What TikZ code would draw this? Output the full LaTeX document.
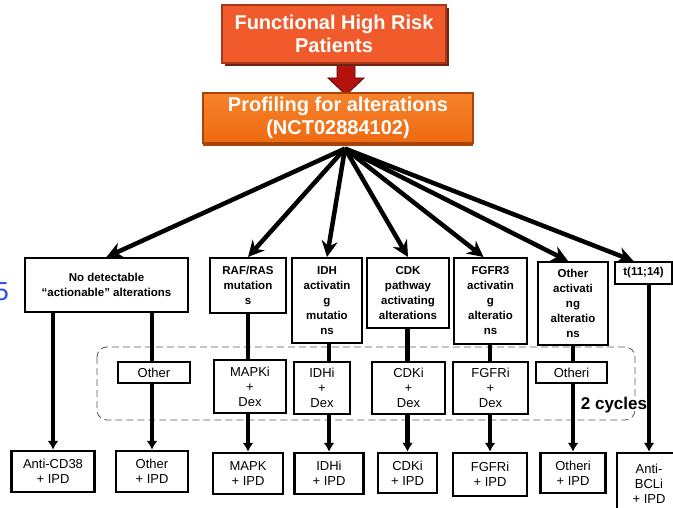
\documentclass[tikz,border=0pt]{standalone}
\usepackage{fontspec}
\setmainfont{Liberation Sans}
\usetikzlibrary{arrows.meta,shadows}

\definecolor{riskfill}{HTML}{F15A2B}
\definecolor{riskedge}{HTML}{A8361A}
\definecolor{riskshadow}{HTML}{6E2412}
\definecolor{profhi}{HTML}{F5822A}
\definecolor{proffill}{HTML}{EE6A12}
\definecolor{profdark}{HTML}{A84405}
\definecolor{arrowred}{HTML}{B3120F}
\definecolor{arrowdark}{HTML}{5A0505}
\definecolor{numblue}{HTML}{2848F0}

\begin{document}
\begin{tikzpicture}[x=1pt,y=-1pt,
    topbox/.style={draw=riskedge,line width=1.2pt,fill=riskfill,text=white,
        font=\fontsize{20}{23}\selectfont\bfseries,align=center,inner sep=0pt},
    profbox/.style={draw=profdark,line width=1.2pt,top color=profhi,bottom color=proffill,text=white,
        font=\fontsize{20}{23}\selectfont\bfseries,align=center,inner sep=0pt},
    altbox/.style={draw,line width=2pt,fill=white,font=\fontsize{11.5}{15}\selectfont\bfseries,
        align=center,inner sep=0pt},
    drugbox/.style={draw,line width=2.5pt,fill=white,font=\fontsize{13}{15}\selectfont,
        align=center,inner sep=0pt},
    fan/.style={line width=4.5pt,-{Stealth[length=16pt,width=16pt]}},
    vline/.style={line width=4.5pt},
    vdown/.style={vline,-{Latex[length=9pt,width=11pt]}}]
    \useasboundingbox (0,0) rectangle (673,508);

    % cycle frame
    \draw[gray!70!black,line width=0.8pt,dash pattern=on 7pt off 4pt,rounded corners=10pt]
        (97,347) rectangle (635,420);

    % top
    \fill[arrowred,draw=arrowdark,line width=0.8pt] (337,62) -- (355,62) -- (355,78) -- (364,78)
        -- (346,95) -- (328,78) -- (337,78) -- cycle;
    \node[topbox,minimum width=224pt,minimum height=58pt,
        drop shadow={shadow xshift=3pt,shadow yshift=-3pt,fill=riskshadow,opacity=1}]
        at (334,34) (risk) {Functional High Risk\\Patients};
    \node[profbox,minimum width=270pt,minimum height=50pt,
        drop shadow={shadow xshift=0pt,shadow yshift=-3pt,fill=profdark,opacity=1}]
        at (338,118) (prof) {Profiling for alterations\\(NCT02884102)};
    \coordinate (hub) at ([xshift=7pt,yshift=-5pt]prof.south);

    % alterations
    \node[altbox,minimum width=163pt,minimum height=54pt] at (106.5,285) (nodet) {No detectable\\“actionable” alterations};
    \node[altbox,minimum width=76pt,minimum height=55pt] at (248,285.5) (raf) {RAF/RAS\\mutation\\s};
    \node[altbox,minimum width=70pt,minimum height=85pt] at (327,300.5) (idh) {IDH\\activatin\\g\\mutatio\\ns};
    \node[altbox,minimum width=82pt,minimum height=70pt] at (408,293) (cdk) {CDK\\pathway\\activating\\alterations};
    \node[altbox,minimum width=73pt,minimum height=86pt] at (490.5,301) (fgfr) {FGFR3\\activatin\\g\\alteratio\\ns};
    \node[altbox,minimum width=70pt,minimum height=83pt] at (573,303.5) (othalt) {Other\\activati\\ng\\alteratio\\ns};
    \node[altbox,minimum width=57pt,minimum height=22pt] at (643.5,273) (t1114) {t(11;14)};

    % induction (2 cycles)
    \node[drugbox,minimum width=72pt,minimum height=21pt] at (154,372.5) (oth1) {Other};
    \node[drugbox,minimum width=72pt,minimum height=53pt] at (250,386.5) (mapki) {MAPKi\\+\\Dex};
    \node[drugbox,minimum width=56pt,minimum height=52pt] at (322,388) (idhi) {IDHi\\+\\Dex};
    \node[drugbox,minimum width=73pt,minimum height=52pt] at (408.5,388) (cdki) {CDKi\\+\\Dex};
    \node[drugbox,minimum width=75pt,minimum height=52pt] at (490.5,388) (fgfri) {FGFRi\\+\\Dex};
    \node[drugbox,minimum width=71pt,minimum height=21pt] at (571.5,372.5) (otheri) {Otheri};
    \node[font=\fontsize{17}{17}\selectfont\bfseries,inner sep=0pt] at (614,405) (cycles) {2 cycles};

    % with IPD
    \node[drugbox,minimum width=83pt,minimum height=41pt] at (53,471.5) (antiCD) {Anti-CD38\\+ IPD};
    \node[drugbox,minimum width=72pt,minimum height=41pt] at (152,471.5) (oth2) {Other\\+ IPD};
    \node[drugbox,minimum width=70pt,minimum height=41pt] at (248,473.5) (mapk) {MAPK\\+ IPD};
    \node[drugbox,minimum width=69pt,minimum height=41pt] at (329,473.5) (idhipd) {IDHi\\+ IPD};
    \node[drugbox,minimum width=59pt,minimum height=40pt] at (407.5,473) (cdkipd) {CDKi\\+ IPD};
    \node[drugbox,minimum width=74pt,minimum height=43pt] at (490,474.5) (fgfripd) {FGFRi\\+ IPD};
    \node[drugbox,minimum width=65pt,minimum height=40pt] at (573,473) (otheripd) {Otheri\\+ IPD};
    \node[drugbox,minimum width=64pt,minimum height=62pt] at (649,484) (bcl) {Anti-\\BCLi\\+ IPD};

    \node[text=numblue,font=\fontsize{26}{26}\selectfont,anchor=east,inner sep=0pt] at (9,292) (five) {5};

    % fan out
    \draw[fan] (hub) -- (nodet.north);
    \draw[fan] (hub) -- (raf.north);
    \draw[fan] (hub) -- (idh.north);
    \draw[fan] (hub) -- (cdk.north);
    \draw[fan] (hub) -- ([xshift=-7pt]fgfr.north);
    \draw[fan] (hub) -- ([xshift=-5pt]othalt.north);
    \draw[fan] (hub) -- ([xshift=-10pt]t1114.north);

    % columns
    \draw[vdown] (antiCD.north |- nodet.south) -- (antiCD.north);
    \draw[vline] (oth2.north |- nodet.south) -- (oth2.north |- oth1.north);
    \draw[vdown] (oth2.north |- oth1.south) -- (oth2.north);
    \draw[vline] (mapk.north |- raf.south) -- (mapk.north |- mapki.north);
    \draw[vdown] (mapk.north |- mapki.south) -- (mapk.north);
    \draw[vline] (idhipd.north |- idh.south) -- (idhipd.north |- idhi.north);
    \draw[vdown] (idhipd.north |- idhi.south) -- (idhipd.north);
    \draw[vline] (cdkipd.north |- cdk.south) -- (cdkipd.north |- cdki.north);
    \draw[vdown] (cdkipd.north |- cdki.south) -- (cdkipd.north);
    \draw[vline] (fgfripd.north |- fgfr.south) -- (fgfripd.north |- fgfri.north);
    \draw[vdown] (fgfripd.north |- fgfri.south) -- (fgfripd.north);
    \draw[vline] (otheripd.north |- othalt.south) -- (otheripd.north |- otheri.north);
    \draw[vdown] (otheripd.north |- otheri.south) -- (otheripd.north);
    \draw[vdown] (bcl.north |- t1114.south) -- (bcl.north);
\end{tikzpicture}
\end{document}
